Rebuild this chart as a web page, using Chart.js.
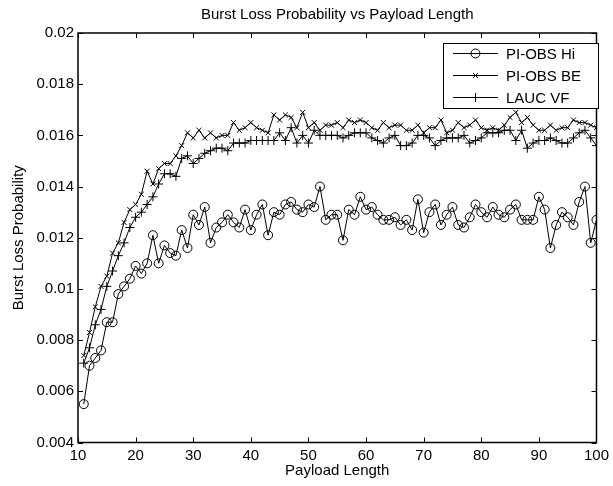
<!DOCTYPE html>
<html>
<head>
<meta charset="utf-8">
<script src="https://cdn.jsdelivr.net/npm/chart.js@4/dist/chart.umd.min.js"></script>
<style>
  html, body { margin: 0; padding: 0; background: #fff; }
  #wrap { width: 613px; height: 486px; }
</style>
</head>
<body>
<div id="wrap"><canvas id="chart"></canvas></div>
<script>
// ── Data ──
const payload = [11,12,13,14,15,16,17,18,19,20,21,22,23,24,25,26,27,28,29,30,
  31,32,33,34,35,36,37,38,39,40,41,42,43,44,45,46,47,48,49,50,
  51,52,53,54,55,56,57,58,59,60,61,62,63,64,65,66,67,68,69,70,
  71,72,73,74,75,76,77,78,79,80,81,82,83,84,85,86,87,88,89,90,
  91,92,93,94,95,96,97,98,99,100];

const piObsHi = [0.0055,0.0070,0.0073,0.0076,0.0087,0.0087,0.0098,0.0101,0.0104,0.0109,
  0.0106,0.0110,0.0121,0.0110,0.0117,0.0114,0.0113,0.0123,0.0116,0.0129,
  0.0125,0.0132,0.0118,0.0124,0.0126,0.0129,0.0126,0.0124,0.0131,0.0123,
  0.0129,0.0133,0.0121,0.0130,0.0129,0.0133,0.0134,0.0131,0.0130,0.0133,
  0.0132,0.0140,0.0127,0.0129,0.0129,0.0119,0.0131,0.0129,0.0136,0.0131,
  0.0132,0.0129,0.0127,0.0127,0.0128,0.0125,0.0127,0.0123,0.0135,0.0122,
  0.0130,0.0133,0.0125,0.0129,0.0132,0.0125,0.0124,0.0128,0.0133,0.0130,
  0.0128,0.0132,0.0129,0.0128,0.0131,0.0133,0.0127,0.0127,0.0127,0.0136,
  0.0131,0.0116,0.0125,0.0130,0.0128,0.0125,0.0134,0.0140,0.0118,0.0127];

const piObsBe = [0.0074,0.0083,0.0093,0.0101,0.0105,0.0114,0.0118,0.0126,0.0131,0.0133,
  0.0137,0.0146,0.0141,0.0147,0.0149,0.0149,0.0152,0.0156,0.0161,0.0159,
  0.0162,0.0159,0.0161,0.0159,0.0160,0.0160,0.0165,0.0162,0.0163,0.0165,
  0.0163,0.0162,0.0161,0.0168,0.0166,0.0168,0.0167,0.0163,0.0169,0.0163,
  0.0165,0.0162,0.0164,0.0164,0.0165,0.0163,0.0166,0.0165,0.0166,0.0165,
  0.0163,0.0162,0.0165,0.0163,0.0164,0.0164,0.0162,0.0162,0.0164,0.0161,
  0.0163,0.0163,0.0166,0.0161,0.0162,0.0165,0.0163,0.0164,0.0166,0.0163,
  0.0162,0.0163,0.0162,0.0164,0.0167,0.0169,0.0165,0.0167,0.0164,0.0162,
  0.0162,0.0164,0.0162,0.0163,0.0163,0.0166,0.0165,0.0165,0.0164,0.0163];

const laucVf = [0.0071,0.0077,0.0086,0.0092,0.0101,0.0107,0.0113,0.0118,0.0124,0.0128,
  0.0130,0.0133,0.0136,0.0141,0.0145,0.0145,0.0144,0.0151,0.0152,0.0149,
  0.0151,0.0153,0.0154,0.0155,0.0155,0.0154,0.0157,0.0157,0.0157,0.0158,
  0.0158,0.0158,0.0158,0.0158,0.0161,0.0158,0.0163,0.0157,0.0160,0.0157,
  0.0162,0.0160,0.0160,0.0160,0.0160,0.0159,0.0160,0.0161,0.0161,0.0161,
  0.0159,0.0158,0.0157,0.0159,0.0160,0.0156,0.0156,0.0157,0.0160,0.0160,
  0.0159,0.0156,0.0158,0.0159,0.0159,0.0159,0.0160,0.0157,0.0158,0.0159,
  0.0161,0.0161,0.0161,0.0162,0.0162,0.0158,0.0162,0.0155,0.0157,0.0158,
  0.0158,0.0159,0.0158,0.0157,0.0157,0.0159,0.0161,0.0162,0.0159,0.0156];

const xTicks = [10,20,30,40,50,60,70,80,90,100];
const yTicks = [0.004,0.006,0.008,0.01,0.012,0.014,0.016,0.018,0.02];
const seriesNames = ["PI-OBS Hi", "PI-OBS BE", "LAUC VF"];

const FONT = "Arial, 'Liberation Sans', sans-serif";
Chart.defaults.font.family = FONT;
Chart.defaults.font.size = 15;
Chart.defaults.color = "#000";

const pts = vals => payload.map((x, i) => ({ x, y: vals[i] }));

// ── MATLAB-ish frame with inward ticks on all four sides ──
const framePlugin = {
  id: "frame",
  afterDatasetsDraw(chart) {
    const { ctx, chartArea: a, scales: { x, y } } = chart;
    const len = 5;
    ctx.save();
    ctx.strokeStyle = "#000";
    ctx.lineWidth = 1;
    ctx.beginPath();
    xTicks.forEach(v => {
      const px = Math.round(x.getPixelForValue(v)) + 0.5;
      ctx.moveTo(px, a.bottom); ctx.lineTo(px, a.bottom - len);
      ctx.moveTo(px, a.top);    ctx.lineTo(px, a.top + len);
    });
    yTicks.forEach(v => {
      const py = Math.round(y.getPixelForValue(v)) + 0.5;
      ctx.moveTo(a.left, py);  ctx.lineTo(a.left + len, py);
      ctx.moveTo(a.right, py); ctx.lineTo(a.right - len, py);
    });
    ctx.stroke();
    ctx.lineWidth = 1.5;
    ctx.strokeRect(a.left, a.top, a.right - a.left, a.bottom - a.top);
    ctx.restore();
  }
};

// ── Legend box inside the plot, top right ──
const legendPlugin = {
  id: "boxLegend",
  afterDraw(chart) {
    const { ctx } = chart;
    const bx = 443, by = 43, bw = 155, bh = 65;
    ctx.save();
    ctx.fillStyle = "#fff";
    ctx.fillRect(bx, by, bw, bh);
    ctx.strokeStyle = "#000";
    ctx.lineWidth = 1;
    ctx.strokeRect(bx + 0.5, by + 0.5, bw, bh);
    ctx.font = "15px " + FONT;
    ctx.textBaseline = "middle";
    ctx.fillStyle = "#000";
    seriesNames.forEach((name, i) => {
      const cy = by + 10.5 + i * 22;
      const cx = 475.5;
      ctx.beginPath();
      ctx.moveTo(453, cy); ctx.lineTo(498, cy);
      if (i === 0) {
        ctx.moveTo(cx + 4.5, cy);
        ctx.arc(cx, cy, 4.5, 0, Math.PI * 2);
      } else if (i === 1) {
        ctx.moveTo(cx - 2.5, cy - 2.5); ctx.lineTo(cx + 2.5, cy + 2.5);
        ctx.moveTo(cx - 2.5, cy + 2.5); ctx.lineTo(cx + 2.5, cy - 2.5);
      } else {
        ctx.moveTo(cx, cy - 4.5); ctx.lineTo(cx, cy + 4.5);
      }
      ctx.stroke();
      ctx.fillText(name, 506, cy + 1);
    });
    ctx.restore();
  }
};

const line = (label, vals, style, radius) => ({
  label,
  data: pts(vals),
  borderColor: "#000",
  backgroundColor: "rgba(0,0,0,0)",
  borderWidth: 1,
  pointStyle: style,
  pointRadius: radius,
  pointBorderColor: "#000",
  pointBorderWidth: 1,
  pointBackgroundColor: "rgba(0,0,0,0)",
  tension: 0,
  fill: false,
});

new Chart(document.getElementById("chart"), {
  type: "line",
  data: {
    datasets: [
      line(seriesNames[2], laucVf, "cross", 4.5),
      line(seriesNames[1], piObsBe, "crossRot", 3.5),
      line(seriesNames[0], piObsHi, "circle", 4.5),
    ]
  },
  options: {
    responsive: true,
    maintainAspectRatio: false,
    animation: false,
    layout: { padding: { top: 0, right: 12, left: 0, bottom: 0 } },
    plugins: {
      legend: { display: false },
      tooltip: { enabled: false },
      title: {
        display: true,
        fullSize: false,
        text: "Burst Loss Probability vs Payload Length",
        font: { size: 15, weight: "normal" },
        color: "#000",
        padding: { top: 6, bottom: 9 },
      },
    },
    scales: {
      x: {
        type: "linear",
        min: 10, max: 100,
        afterBuildTicks: s => { s.ticks = xTicks.map(v => ({ value: v })); },
        afterFit: s => { s.height = 43.5; },
        grid: { display: false, drawTicks: false },
        border: { display: false },
        ticks: { padding: 4, color: "#000", maxRotation: 0, autoSkip: false },
        title: { display: true, text: "Payload Length", color: "#000", padding: { top: 0, bottom: 6 } },
      },
      y: {
        type: "linear",
        min: 0.004, max: 0.02,
        afterBuildTicks: s => { s.ticks = yTicks.map(v => ({ value: v })); },
        afterFit: s => { s.width = 78; },
        grid: { display: false, drawTicks: false },
        border: { display: false },
        ticks: {
          padding: 4, color: "#000", autoSkip: false,
          callback: v => String(Number(v.toFixed(3))),
        },
        title: { display: true, text: "Burst Loss Probability", color: "#000", padding: { top: 10, bottom: 0 } },
      },
    },
  },
  plugins: [framePlugin, legendPlugin],
});
</script>
</body>
</html>
